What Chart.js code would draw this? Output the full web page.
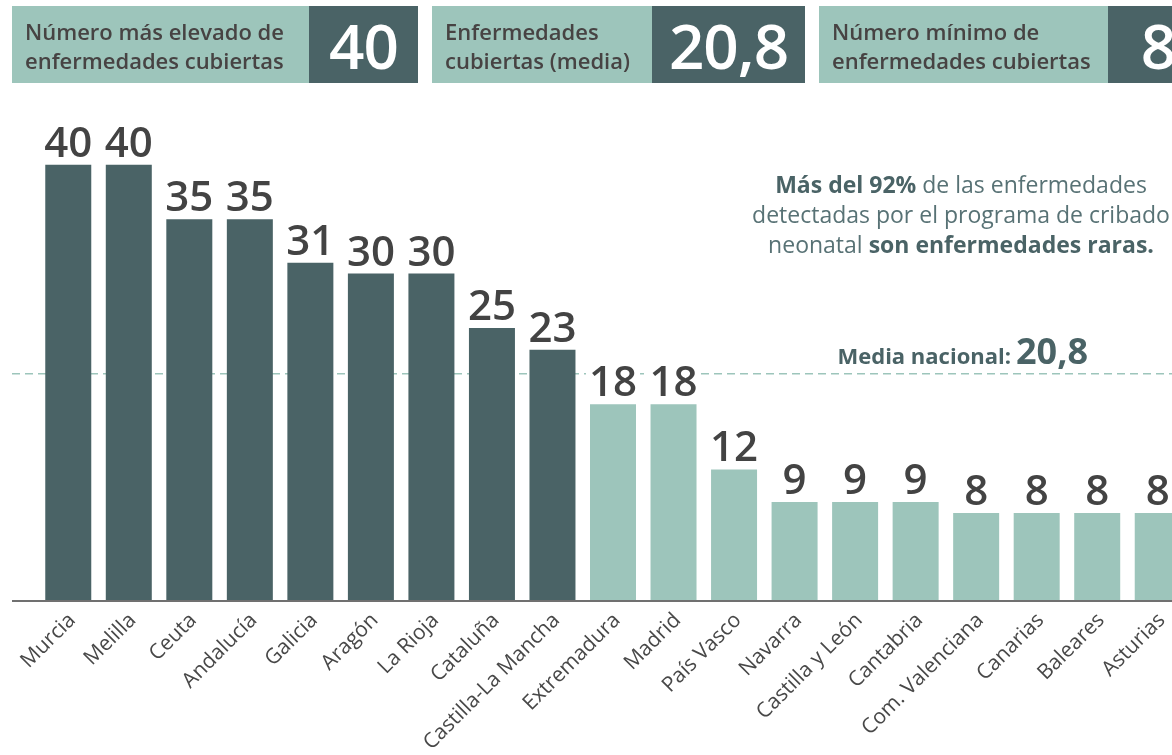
<!DOCTYPE html>
<html lang="es">
<head>
<meta charset="utf-8">
<title>Enfermedades cubiertas por el cribado neonatal</title>
<script src="https://cdn.jsdelivr.net/npm/chart.js@4.4.1/dist/chart.umd.min.js"></script>
<style>
  body { margin: 0; width: 1172px; height: 755px; overflow: hidden; position: relative; background: #fff; font-family: "Open Sans", sans-serif; }
  #chart { position: absolute; left: 0; top: 0; }
  .box { position: absolute; top: 6px; height: 77px; display: flex; }
  .box .lbl { background: #9dc5bb; color: #474343; font-size: 22px; font-weight: 600; line-height: 29px; padding: 11px 0 0 13px; box-sizing: border-box; white-space: nowrap; }
  .box .num { background: #4a6366; color: #fff; font-size: 62px; font-weight: 600; display: flex; align-items: center; justify-content: center; letter-spacing: -1px; }
  .nota { position: absolute; left: 730px; width: 462px; top: 169px; text-align: center; font-size: 23px; line-height: 30px; color: #587275; }
  .nota b { color: #4a6366; font-weight: 700; }
</style>
</head>
<body>
<canvas id="chart" width="1200" height="755"></canvas>
<div id="cajas"></div>
<div class="nota"><b>Más del 92%</b> de las enfermedades<br>detectadas por el programa de cribado<br>neonatal <b>son enfermedades raras.</b></div>

<script>
// datos
const regiones = ['Murcia', 'Melilla', 'Ceuta', 'Andalucía', 'Galicia', 'Aragón', 'La Rioja', 'Cataluña',
  'Castilla-La Mancha', 'Extremadura', 'Madrid', 'País Vasco', 'Navarra', 'Castilla y León', 'Cantabria',
  'Com. Valenciana', 'Canarias', 'Baleares', 'Asturias'];
const enfermedades = [40, 40, 35, 35, 31, 30, 30, 25, 23, 18, 18, 12, 9, 9, 9, 8, 8, 8, 8];
const mediaNacional = 20.8;

const resumenTextos = [['Número más elevado de', 'enfermedades cubiertas'], ['Enfermedades', 'cubiertas (media)'], ['Número mínimo de', 'enfermedades cubiertas']];
const resumenValores = ['40', '20,8', '8'];

const OSCURO = '#4a6366';
const CLARO = '#9dc5bb';

function coma(v) { return String(v).replace('.', ','); }

// cajas de arriba
const cajasPos = [[12, 297, 109], [432, 220, 153], [819, 289, 100]];
const cont = document.getElementById('cajas');
resumenTextos.forEach((t, i) => {
  const [left, wl, wn] = cajasPos[i];
  const d = document.createElement('div');
  d.className = 'box';
  d.style.left = left + 'px';
  d.innerHTML = '<div class="lbl" style="width:' + wl + 'px">' + t.join('<br>') + '</div>' +
    '<div class="num" style="width:' + wn + 'px">' + resumenValores[i] + '</div>';
  cont.appendChild(d);
});

const extras = {
  id: 'extras',
  beforeDatasetsDraw(chart) {
    const { ctx, scales: { y } } = chart;
    const ym = y.getPixelForValue(mediaNacional);
    ctx.save();
    ctx.strokeStyle = CLARO;
    ctx.lineWidth = 1.5;
    ctx.setLineDash([8, 5]);
    ctx.beginPath();
    ctx.moveTo(12, ym);
    ctx.lineTo(chart.width, ym);
    ctx.stroke();

    // Media nacional: 20,8
    ctx.fillStyle = OSCURO;
    ctx.textBaseline = 'alphabetic';
    ctx.textAlign = 'right';
    ctx.font = '700 36px "Open Sans"';
    const w = ctx.measureText(coma(mediaNacional)).width;
    ctx.fillText(coma(mediaNacional), 1088, ym - 10);
    ctx.font = '700 22px "Open Sans"';
    ctx.fillText('Media nacional:', 1088 - w - 5, ym - 10);
    ctx.restore();
  },
  afterDatasetsDraw(chart) {
    const { ctx, chartArea } = chart;
    ctx.save();
    ctx.strokeStyle = '#707070';
    ctx.lineWidth = 2;
    ctx.beginPath();
    ctx.moveTo(12, chartArea.bottom + 1);
    ctx.lineTo(chart.width, chartArea.bottom + 1);
    ctx.stroke();

    // etiquetas de valor
    ctx.font = '600 42px "Open Sans"';
    ctx.textAlign = 'center';
    ctx.textBaseline = 'alphabetic';
    chart.getDatasetMeta(0).data.forEach((bar, i) => {
      const txt = String(enfermedades[i]);
      const tw = ctx.measureText(txt).width;
      ctx.fillStyle = '#fff';
      ctx.fillRect(bar.x - tw / 2 - 3, bar.y - 40, tw + 6, 36);
      ctx.fillStyle = '#434343';
      ctx.fillText(txt, bar.x, bar.y - 8);
    });
    ctx.restore();
  }
};

const ctx = document.getElementById('chart').getContext('2d');
const grafico = new Chart(ctx, {
  type: 'bar',
  data: {
    labels: regiones,
    datasets: [{
      data: enfermedades,
      backgroundColor: enfermedades.map(v => v > mediaNacional ? OSCURO : CLARO),
      borderWidth: 0,
      categoryPercentage: 1,
      barPercentage: 0.76
    }]
  },
  options: {
    responsive: false,
    animation: false,
    layout: { padding: { top: 56, left: 38, right: 12, bottom: 0 } },
    plugins: {
      legend: { display: false },
      tooltip: { enabled: false }
    },
    scales: {
      y: { display: false, min: 0, max: 50 },
      x: {
        grid: { display: false },
        border: { display: false },
        ticks: {
          minRotation: 45,
          maxRotation: 45,
          padding: 0,
          labelOffset: 4,
          color: '#484848',
          font: { family: 'Open Sans', size: 21 }
        },
        afterFit(scale) { scale.height = 155; }
      }
    }
  },
  plugins: [extras]
});
</script>
</body>
</html>
